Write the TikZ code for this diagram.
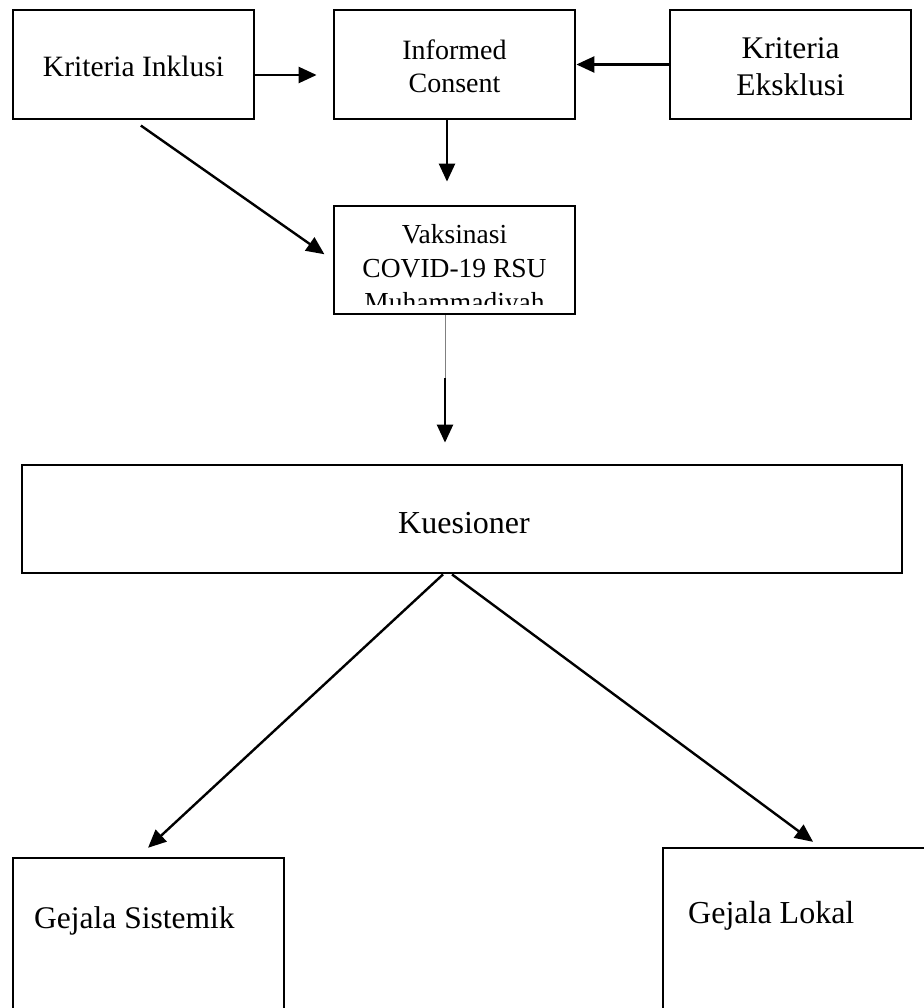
\documentclass[tikz,border=0pt]{standalone}
\usepackage{fontspec}
\setmainfont{Liberation Serif}
\usetikzlibrary{arrows.meta}

\begin{document}
\begin{tikzpicture}[x=1pt, y=-1pt,
        box/.style={draw, line width=2.8pt, inner sep=0pt, minimum width=241pt, minimum height=109pt},
        arr/.style={line width=2.4pt, -{Triangle[length=18pt, width=16pt]}},
        txt/.style={align=center, inner sep=0pt}]
        \useasboundingbox (0, 0) rectangle (923, 1008);

        % top row
        \node[box] (inklusi) at (133.5, 64.5) {};
        \node[box] (informed) at (454.5, 64.5) {};
        \node[box] (eksklusi) at (790.5, 64.5) {};
        \node[txt, font=\fontsize{29.5}{34}\selectfont] (inklusiTxt) at (133.5, 66) {Kriteria Inklusi};
        \node[txt, font=\fontsize{28}{33}\selectfont] (informedTxt) at (454.5, 66) {Informed\\Consent};
        \node[txt, font=\fontsize{31.5}{37}\selectfont] (eksklusiTxt) at (790.5, 67) {Kriteria\\Eksklusi};

        % vaksinasi, text cut at the bottom
        \node[box, minimum height=108pt] (vak) at (454.5, 260) {};
        \begin{scope}
            \clip (vak.north west) rectangle ([yshift=11pt]vak.south east);
            \node[txt, font=\fontsize{27.5}{34}\selectfont] (vakTxt) at (454.5, 271) {Vaksinasi\\COVID-19 RSU\\Muhammadiyah};
        \end{scope}

        \node[box, minimum width=880pt, minimum height=108pt] (kues) at (462, 519) {};
        \node[txt, font=\fontsize{32}{38}\selectfont] (kuesTxt) at (464, 523) {Kuesioner};

        % bottom boxes run off the page
        \node[box, minimum width=271pt, minimum height=172pt] (sistemik) at (148.5, 944) {};
        \node[box, minimum width=277pt, minimum height=182pt] (lokal) at (801.5, 939) {};
        \node[txt, anchor=west, font=\fontsize{31.5}{37}\selectfont] (sistemikTxt) at (34, 921) {Gejala Sistemik};
        \node[txt, anchor=west, font=\fontsize{32}{38}\selectfont] (lokalTxt) at (688, 916) {Gejala Lokal};

        % connectors
        \draw[arr, shorten >=16pt] ([yshift=-10.5pt]inklusi.east) -- ([yshift=-10.5pt]informed.west);
        \draw[arr] (eksklusi.west) -- (informed.east);
        \draw[arr, shorten >=23pt] ([xshift=-7.5pt]informed.south) -- ([xshift=-7.5pt]vak.north);
        \draw[arr, shorten <=9pt, shorten >=10pt] (inklusi.south) -- (vak.west);

        \coordinate (gap) at (445, 378);
        \draw[gray, line width=1pt] ([xshift=-9.5pt]vak.south) -- (gap);
        \draw[arr, shorten >=21pt] (gap) -- (gap |- kues.north);

        \draw[arr, shorten >=13pt] ([xshift=-19pt]kues.south) -- ([xshift=-10pt]sistemik.north);
        \draw[arr, shorten >=8pt] ([xshift=-10pt]kues.south) -- ([xshift=18pt]lokal.north);
    \end{tikzpicture}
\end{document}
